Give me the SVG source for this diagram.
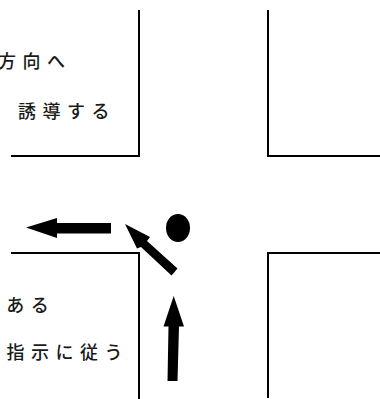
<svg xmlns="http://www.w3.org/2000/svg" width="380" height="399" viewBox="0 0 380 399">
<style>
.wall{fill:none;stroke:#000;stroke-width:2}
.label{font-family:"Noto Sans CJK JP","Liberation Sans",sans-serif;font-size:18px;font-weight:500;letter-spacing:6.5px;fill:#1a1a1a}
</style>
<rect width="380" height="399" fill="#fff"/>
<g id="block-top-left">
<path class="wall" d="M139 10V156H11"/>
<text class="label" x="-2" y="68">方向へ</text>
<text class="label" x="18" y="118">誘導する</text>
</g>
<g id="block-top-right"><path class="wall" d="M268 10V156H380"/></g>
<g id="block-bottom-left">
<path class="wall" d="M11 253H139V399"/>
<text class="label" x="-18" y="312">である</text>
<text class="label" x="6.500" y="359">指示に従う</text>
</g>
<g id="block-bottom-right"><path class="wall" d="M380 253H268V398"/></g>
<g id="connectors">
<path d="M26 227.500L57 218V223H111V233.500H57V238Z"/>
<path d="M125 224L150 237L147 241L177.500 268.500L171.500 275.500L141 247L137 248.500Z"/>
<path d="M173.700 296L184 326.500H179L177.500 381H167.500L168.500 326.500H163.500Z"/>
</g>
<g id="marker"><ellipse cx="178" cy="228" rx="12" ry="14"/></g>
</svg>
